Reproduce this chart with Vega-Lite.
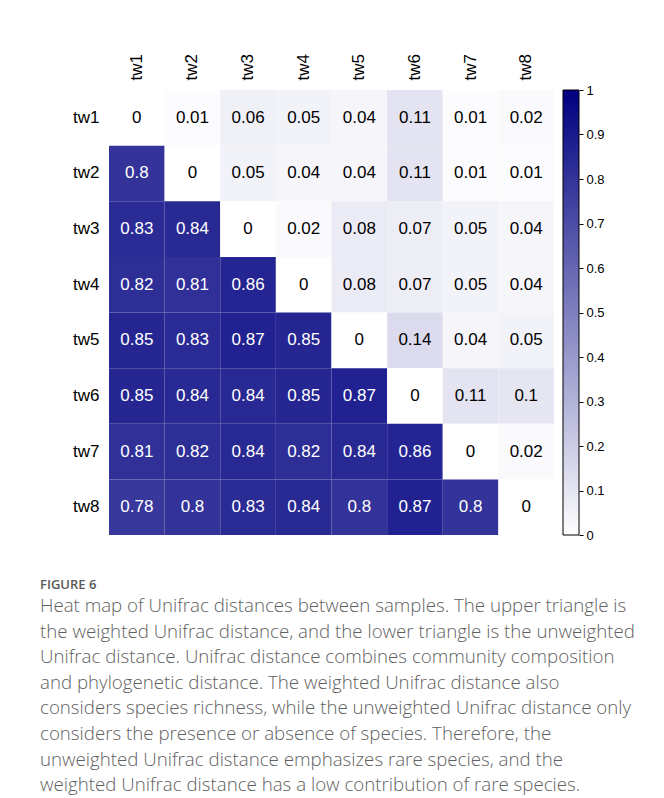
{
  "$schema": "https://vega.github.io/schema/vega-lite/v6.json",
  "padding": {"left": 40, "top": 53, "right": 5, "bottom": 5},
  "background": "white",
  "config": {
    "view": {"stroke": null},
    "font": "Liberation Sans"
  },
  "title": {
    "text": "FIGURE 6",
    "subtitle": [
      "Heat map of Unifrac distances between samples. The upper triangle is",
      "the weighted Unifrac distance, and the lower triangle is the unweighted",
      "Unifrac distance. Unifrac distance combines community composition",
      "and phylogenetic distance. The weighted Unifrac distance also",
      "considers species richness, while the unweighted Unifrac distance only",
      "considers the presence or absence of species. Therefore, the",
      "unweighted Unifrac distance emphasizes rare species, and the",
      "weighted Unifrac distance has a low contribution of rare species."
    ],
    "orient": "bottom",
    "anchor": "start",
    "frame": "group",
    "offset": 37,
    "dx": -69,
    "font": "Open Sans",
    "fontSize": 13,
    "fontWeight": 600,
    "color": "#5a5a5a",
    "subtitleFont": "Open Sans",
    "subtitleFontSize": 18.7,
    "subtitleFontWeight": 300,
    "subtitleColor": "#5f5f5f",
    "subtitleLineHeight": 25.6,
    "subtitlePadding": 5
  },
  "datasets": {
    "dist": [
      {"row": "tw1", "col": "tw1", "v": 0}, {"row": "tw1", "col": "tw2", "v": 0.01}, {"row": "tw1", "col": "tw3", "v": 0.06}, {"row": "tw1", "col": "tw4", "v": 0.05},
      {"row": "tw1", "col": "tw5", "v": 0.04}, {"row": "tw1", "col": "tw6", "v": 0.11}, {"row": "tw1", "col": "tw7", "v": 0.01}, {"row": "tw1", "col": "tw8", "v": 0.02},
      {"row": "tw2", "col": "tw1", "v": 0.8}, {"row": "tw2", "col": "tw2", "v": 0}, {"row": "tw2", "col": "tw3", "v": 0.05}, {"row": "tw2", "col": "tw4", "v": 0.04},
      {"row": "tw2", "col": "tw5", "v": 0.04}, {"row": "tw2", "col": "tw6", "v": 0.11}, {"row": "tw2", "col": "tw7", "v": 0.01}, {"row": "tw2", "col": "tw8", "v": 0.01},
      {"row": "tw3", "col": "tw1", "v": 0.83}, {"row": "tw3", "col": "tw2", "v": 0.84}, {"row": "tw3", "col": "tw3", "v": 0}, {"row": "tw3", "col": "tw4", "v": 0.02},
      {"row": "tw3", "col": "tw5", "v": 0.08}, {"row": "tw3", "col": "tw6", "v": 0.07}, {"row": "tw3", "col": "tw7", "v": 0.05}, {"row": "tw3", "col": "tw8", "v": 0.04},
      {"row": "tw4", "col": "tw1", "v": 0.82}, {"row": "tw4", "col": "tw2", "v": 0.81}, {"row": "tw4", "col": "tw3", "v": 0.86}, {"row": "tw4", "col": "tw4", "v": 0},
      {"row": "tw4", "col": "tw5", "v": 0.08}, {"row": "tw4", "col": "tw6", "v": 0.07}, {"row": "tw4", "col": "tw7", "v": 0.05}, {"row": "tw4", "col": "tw8", "v": 0.04},
      {"row": "tw5", "col": "tw1", "v": 0.85}, {"row": "tw5", "col": "tw2", "v": 0.83}, {"row": "tw5", "col": "tw3", "v": 0.87}, {"row": "tw5", "col": "tw4", "v": 0.85},
      {"row": "tw5", "col": "tw5", "v": 0}, {"row": "tw5", "col": "tw6", "v": 0.14}, {"row": "tw5", "col": "tw7", "v": 0.04}, {"row": "tw5", "col": "tw8", "v": 0.05},
      {"row": "tw6", "col": "tw1", "v": 0.85}, {"row": "tw6", "col": "tw2", "v": 0.84}, {"row": "tw6", "col": "tw3", "v": 0.84}, {"row": "tw6", "col": "tw4", "v": 0.85},
      {"row": "tw6", "col": "tw5", "v": 0.87}, {"row": "tw6", "col": "tw6", "v": 0}, {"row": "tw6", "col": "tw7", "v": 0.11}, {"row": "tw6", "col": "tw8", "v": 0.1},
      {"row": "tw7", "col": "tw1", "v": 0.81}, {"row": "tw7", "col": "tw2", "v": 0.82}, {"row": "tw7", "col": "tw3", "v": 0.84}, {"row": "tw7", "col": "tw4", "v": 0.82},
      {"row": "tw7", "col": "tw5", "v": 0.84}, {"row": "tw7", "col": "tw6", "v": 0.86}, {"row": "tw7", "col": "tw7", "v": 0}, {"row": "tw7", "col": "tw8", "v": 0.02},
      {"row": "tw8", "col": "tw1", "v": 0.78}, {"row": "tw8", "col": "tw2", "v": 0.8}, {"row": "tw8", "col": "tw3", "v": 0.83}, {"row": "tw8", "col": "tw4", "v": 0.84},
      {"row": "tw8", "col": "tw5", "v": 0.8}, {"row": "tw8", "col": "tw6", "v": 0.87}, {"row": "tw8", "col": "tw7", "v": 0.8}, {"row": "tw8", "col": "tw8", "v": 0}
    ],
    "bar": [{"lo": 0, "hi": 1}]
  },
  "hconcat": [
    {
      "width": 445,
      "height": 445,
      "data": {"name": "dist"},
      "encoding": {
        "x": {
          "field": "col", "type": "nominal", "sort": "ascending", "title": null,
          "axis": {"orient": "top", "labelAngle": -90, "labelFontSize": 17, "labelColor": "black",
                   "labelPadding": 10, "ticks": false, "domain": false, "labelBaseline": "middle", "labelAlign": "left"}
        },
        "y": {
          "field": "row", "type": "nominal", "sort": "ascending", "title": null,
          "axis": {"labelFontSize": 17, "labelColor": "black", "labelPadding": 10, "ticks": false, "domain": false}
        }
      },
      "layer": [
        {
          "mark": {"type": "rect"},
          "encoding": {
            "color": {
              "field": "v", "type": "quantitative",
              "scale": {"domain": [0, 1], "range": ["#ffffff", "#000080"], "interpolate": "rgb"},
              "legend": null
            }
          }
        },
        {
          "mark": {"type": "text", "fontSize": 17},
          "encoding": {
            "text": {"field": "v", "type": "nominal"},
            "color": {
              "condition": {"test": "datum.v > 0.5", "value": "white"},
              "value": "black"
            }
          }
        }
      ]
    },
    {
      "width": 16,
      "height": 445,
      "data": {"name": "bar"},
      "mark": {
        "type": "rect",
        "stroke": "black",
        "strokeWidth": 1,
        "fill": {
          "gradient": "linear", "x1": 0, "y1": 1, "x2": 0, "y2": 0,
          "stops": [{"offset": 0, "color": "#ffffff"}, {"offset": 1, "color": "#000080"}]
        }
      },
      "encoding": {
        "y": {
          "field": "lo", "type": "quantitative", "title": null,
          "scale": {"domain": [0, 1], "nice": false, "zero": false},
          "axis": {"orient": "right", "values": [0, 0.1, 0.2, 0.3, 0.4, 0.5, 0.6, 0.7, 0.8, 0.9, 1],
                   "format": "~g",
                   "labelFontSize": 13, "labelColor": "black", "tickColor": "black", "tickSize": 4,
                   "domain": false, "grid": false, "labelPadding": 3, "labelFlush": false}
        },
        "y2": {"field": "hi"}
      }
    }
  ],
  "spacing": 8
}
